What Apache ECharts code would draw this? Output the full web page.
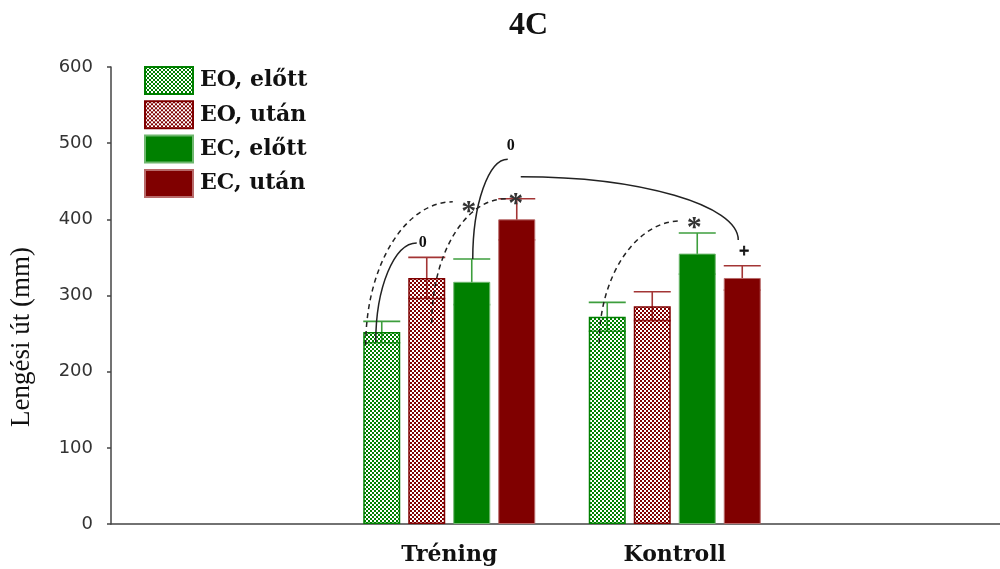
<!DOCTYPE html>
<html>
<head>
<meta charset="utf-8">
<script src="https://cdn.jsdelivr.net/npm/echarts@6/dist/echarts.min.js"></script>
<style>
  html, body { margin: 0; padding: 0; background: #fff; }
  #chart { width: 1000px; height: 569px; }
</style>
</head>
<body>
<div id="chart"></div>
<script>
// Groups and measured means / error half-widths (mm)
const categories = ['Tréning', 'Kontroll'];
const seriesNames = ['EO, előtt', 'EO, után', 'EC, előtt', 'EC, után'];
const eoBefore = [252, 272];
const eoAfter  = [323, 286];
const ecBefore = [318, 355];
const ecAfter  = [400, 323];
const eoBeforeErr = [14, 19];
const eoAfterErr  = [27, 19];
const ecBeforeErr = [30, 27];
const ecAfterErr  = [27, 16];
const yTicks = [0, 100, 200, 300, 400, 500, 600];

const means = [eoBefore, eoAfter, ecBefore, ecAfter];
const errs = [eoBeforeErr, eoAfterErr, ecBeforeErr, ecAfterErr];

const GREEN = '#008000';
const RED = '#800000';
const BAR_W = 37;
const BAR_GAP = 8;
const STEP = BAR_W + BAR_GAP;

// checkerboard fill (coloured cells + transparent cells)
function checker(color) {
  const c = document.createElement('canvas');
  c.width = 4; c.height = 4;
  const g = c.getContext('2d');
  g.fillStyle = color;
  g.fillRect(0, 0, 2, 2);
  g.fillRect(2, 2, 2, 2);
  return { image: c, repeat: 'repeat' };
}

const styles = [
  { color: checker(GREEN), borderColor: GREEN, borderWidth: 1.5 },
  { color: checker(RED), borderColor: RED, borderWidth: 1.5 },
  { color: GREEN, borderColor: '#6fb86f', borderWidth: 1 },
  { color: RED, borderColor: '#b86a6a', borderWidth: 1 }
];
const errColors = ['#3d9e3d', '#a33535', '#3d9e3d', '#a33535'];

// axis has an empty band on each side of the two groups
const axisCats = [' ', ...categories, '  '];

const barSeries = seriesNames.map((name, s) => ({
  name,
  type: 'bar',
  barWidth: BAR_W,
  barGap: (BAR_GAP / BAR_W * 100) + '%',
  z: 3,
  itemStyle: styles[s],
  emphasis: { disabled: true },
  data: means[s].map((v, i) => [categories[i], v])
}));

const errSeries = seriesNames.map((name, s) => ({
  type: 'custom',
  z: 2,
  silent: true,
  encode: { x: 0, y: [1, 2] },
  data: means[s].map((v, i) => [categories[i], v - errs[s][i], v + errs[s][i]]),
  renderItem(params, api) {
    const x = api.coord([api.value(0), 0])[0] + (s - 1.5) * STEP;
    const yLo = api.coord([api.value(0), api.value(1)])[1];
    const yHi = api.coord([api.value(0), api.value(2)])[1];
    const st = { stroke: errColors[s], lineWidth: 1.6 };
    const h = BAR_W / 2;
    return {
      type: 'group',
      children: [
        { type: 'line', shape: { x1: x, y1: yLo, x2: x, y2: yHi }, style: st },
        { type: 'line', shape: { x1: x - h, y1: yHi, x2: x + h, y2: yHi }, style: st },
        { type: 'line', shape: { x1: x - h, y1: yLo, x2: x + h, y2: yLo }, style: st }
      ]
    };
  }
}));

const chart = echarts.init(document.getElementById('chart'), null, { renderer: 'canvas' });

chart.setOption({
  animation: false,
  backgroundColor: '#fff',
  title: {
    text: '4C',
    left: 509,
    top: 10,
    padding: 0,
    textStyle: { fontFamily: 'Liberation Serif', fontWeight: 'bold', fontSize: 32, color: '#111' }
  },
  legend: {
    data: seriesNames,
    orient: 'vertical',
    left: 144,
    top: 66,
    padding: 0,
    icon: 'rect',
    itemWidth: 48,
    itemHeight: 27,
    itemGap: 5.3,
    selectedMode: false,
    textStyle: {
      fontFamily: 'DejaVu Serif', fontWeight: 'bold', fontSize: 22, color: '#111',
      lineHeight: 27, padding: [0, 0, 0, 2]
    }
  },
  grid: { left: 111, top: 67, width: 902, height: 457, outerBoundsMode: 'none', containLabel: false },
  xAxis: {
    type: 'category',
    data: axisCats,
    axisLine: { lineStyle: { color: '#444', width: 1.5 } },
    axisTick: { show: false },
    axisLabel: {
      margin: 20,
      fontFamily: 'DejaVu Serif', fontWeight: 'bold', fontSize: 22, color: '#111'
    },
    splitLine: { show: false }
  },
  yAxis: {
    type: 'value',
    min: yTicks[0],
    max: yTicks[yTicks.length - 1],
    interval: 100,
    axisLine: { show: true, lineStyle: { color: '#444', width: 1.5 } },
    axisTick: { show: true, length: 4, lineStyle: { color: '#444', width: 1.5 } },
    axisLabel: { margin: 18, fontFamily: 'DejaVu Sans', fontSize: 18, color: '#333' },
    splitLine: { show: false }
  },
  series: [...errSeries, ...barSeries]
});

// significance links: point = [group, bar index, px offset from bar centre, value]
const links = [
  { from: ['Tréning', 0, -16, 235], to: ['Tréning', 2, -19, 423], dashed: true, turn: 'vh' },
  { from: ['Tréning', 0, -6, 239], to: ['Tréning', 1, -10, 369], dashed: false, turn: 'vh' },
  { from: ['Tréning', 1, 5, 264], to: ['Tréning', 3, -11, 427], dashed: true, turn: 'vh' },
  { from: ['Tréning', 2, 1, 348], to: ['Tréning', 3, -9, 479], dashed: false, turn: 'vh' },
  { from: ['Tréning', 3, 4, 456], to: ['Kontroll', 3, -4, 373], dashed: false, turn: 'hv' },
  { from: ['Kontroll', 0, -8, 238], to: ['Kontroll', 2, -16, 398], dashed: true, turn: 'vh' }
];
const marks = [
  { at: ['Tréning', 2, -3, 417], text: '*' },
  { at: ['Tréning', 1, -4, 369], text: '0' },
  { at: ['Tréning', 3, -1, 427], text: '*' },
  { at: ['Tréning', 3, -6, 496], text: '0' },
  { at: ['Kontroll', 3, 2, 357], text: '+' },
  { at: ['Kontroll', 2, -3, 395], text: '*' }
];

function px(p) {
  const cx = chart.convertToPixel({ xAxisIndex: 0 }, p[0]);
  const y = chart.convertToPixel({ yAxisIndex: 0 }, p[3]);
  return [cx + (p[1] - 1.5) * STEP + p[2], y];
}

const K = 0.55;
const graphics = [];
links.forEach(l => {
  const [x0, y0] = px(l.from);
  const [x3, y3] = px(l.to);
  let c1, c2;
  if (l.turn === 'vh') {
    c1 = [x0, y0 + (y3 - y0) * K];
    c2 = [x3 + (x0 - x3) * K, y3];
  } else {
    c1 = [x0 + (x3 - x0) * K, y0];
    c2 = [x3, y3 + (y0 - y3) * K];
  }
  graphics.push({
    type: 'bezierCurve',
    z: 100,
    silent: true,
    shape: { x1: x0, y1: y0, cpx1: c1[0], cpy1: c1[1], cpx2: c2[0], cpy2: c2[1], x2: x3, y2: y3 },
    style: { stroke: '#222', lineWidth: 1.5, fill: null, lineDash: l.dashed ? [5, 4] : null }
  });
});
marks.forEach(m => {
  const [x, y] = px(m.at);
  const isStar = m.text === '*';
  const size = isStar ? 30 : (m.text === '+' ? 18 : 16);
  graphics.push({
    type: 'text',
    z: 101,
    silent: true,
    x, y: y + (isStar ? size * 0.18 : 0),
    style: {
      text: m.text,
      fill: isStar ? '#333' : '#111',
      font: 'bold ' + size + 'px "Liberation Serif"',
      textAlign: 'center',
      textVerticalAlign: 'middle',
      stroke: m.text === '+' ? '#111' : null,
      lineWidth: m.text === '+' ? 0.8 : 0
    }
  });
});
// y-axis title
graphics.push({
  type: 'text',
  silent: true,
  x: 22, y: 337,
  rotation: Math.PI / 2,
  style: {
    text: 'Lengési út (mm)',
    fill: '#111',
    font: '27px "Liberation Serif"',
    textAlign: 'center',
    textVerticalAlign: 'middle'
  }
});
chart.setOption({ graphic: graphics });
</script>
</body>
</html>
